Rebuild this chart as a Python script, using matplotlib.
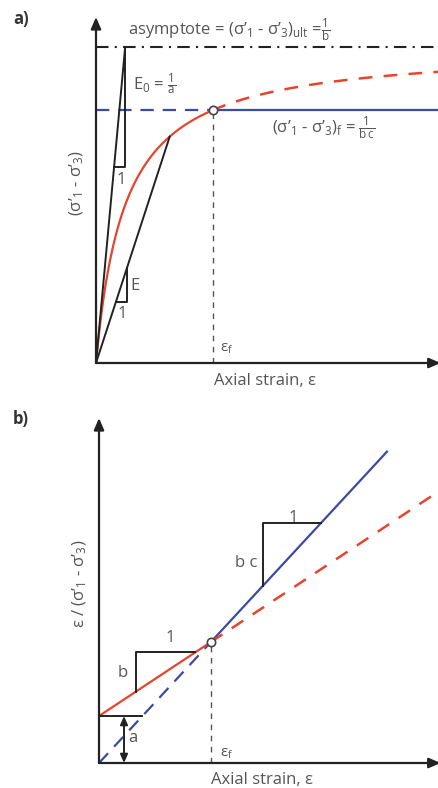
import numpy as np
import matplotlib
matplotlib.use("Agg")
import matplotlib.pyplot as plt

plt.rcParams['font.family'] = ['Open Sans', 'DejaVu Sans']
plt.rcParams['mathtext.fontset'] = 'custom'
plt.rcParams['mathtext.rm'] = 'Open Sans'
plt.rcParams['mathtext.it'] = 'Open Sans:italic'
plt.rcParams['mathtext.bf'] = 'Open Sans:bold'
plt.rcParams['mathtext.default'] = 'regular'

# ---------------- data ----------------
# panel a: hyperbolic stress-strain model  sigma = eps / (a + b*eps)
a_hyp = 0.85          # 1/E0
b_hyp = 1.0           # 1/(sigma_ult)
Rf = 0.8              # failure ratio  -> (s1-s3)_f = Rf/b
eps_max_a = 10.0
eps_secant = 2.15     # point used for secant modulus E
# panel b: transformed axes  eps/sigma = a + b*eps
a_lin = 1.0
b_lin = 0.463
eps_f_b = 3.4
eps_max_b = 10.33
eps_blue_end = 8.75
tri_b = [1.12, 2.92]      # horizontal extent of "b / 1" triangle
tri_bc = [4.98, 6.75]     # horizontal extent of "b c / 1" triangle

RED = '#e5452d'
BLUE = '#3d4b9f'
BLK = '#222222'
TXT = '#555555'

W, H = 439, 788
fig = plt.figure(figsize=(W / 100, H / 100), dpi=100)

def fx(px):
    return px / W

def fy(py):
    return 1 - py / H

FS = 12
SIG1 = r"σ’_{1}"
SIG3 = r"σ’_{3}"

# ---------------- panel a ----------------
axa = fig.add_axes([fx(96), fy(363), fx(439 - 96), (363 - 17) / H])
axa.set_xlim(0, eps_max_a)
axa.set_ylim(0, 346 / 316)
axa.axis('off')

sig_ult = 1 / b_hyp
sig_f = Rf * sig_ult
eps_f = sig_f * a_hyp / (1 - b_hyp * sig_f)

def hyp(e):
    return e / (a_hyp + b_hyp * e)

e1 = np.linspace(0, eps_f, 200)
e2 = np.linspace(eps_f, eps_max_a, 200)
axa.plot(e1, hyp(e1), color=RED, lw=1.6, solid_capstyle='butt', zorder=3)
axa.plot(e2, hyp(e2), color=RED, lw=1.8, ls=(0, (5.5, 4.5)), zorder=3)

# asymptote
axa.plot([0, eps_max_a], [sig_ult, sig_ult], color=BLK, lw=1.5,
         ls=(0, (6, 3, 1, 3)), zorder=2)
# failure line
axa.plot([0, eps_f], [sig_f, sig_f], color=BLUE, lw=1.6, ls=(0, (6, 4)), zorder=2)
axa.plot([eps_f, eps_max_a], [sig_f, sig_f], color=BLUE, lw=1.6, zorder=2)
# eps_f vertical
axa.plot([eps_f, eps_f], [0, sig_f], color=TXT, lw=1.0, ls=(0, (4, 4)), zorder=1)

# initial tangent E0
axa.plot([0, a_hyp], [0, sig_ult], color=BLK, lw=1.4, zorder=4)
t0 = 0.62
axa.plot([t0 * a_hyp, a_hyp, a_hyp], [t0, t0, sig_ult], color=BLK, lw=1.4, zorder=4)
# secant E
s_sec = hyp(eps_secant)
k = s_sec / eps_secant
axa.plot([0, eps_secant], [0, s_sec], color=BLK, lw=1.4, zorder=4)
sy = 0.193
ex = 0.90
axa.plot([sy / k, ex, ex], [sy, sy, k * ex], color=BLK, lw=1.4, zorder=4)

axa.plot([eps_f], [sig_f], marker='o', ms=6, mfc='white', mec='#444444', mew=1.2, zorder=6)

# axes arrows
axa.annotate('', xy=(0, 1), xytext=(0, 0), xycoords='axes fraction',
             arrowprops=dict(arrowstyle='-|>,head_length=0.7,head_width=0.3',
                             color=BLK, lw=1.6, shrinkA=0, shrinkB=0))
axa.annotate('', xy=(1.005, 0), xytext=(0, 0), xycoords='axes fraction',
             arrowprops=dict(arrowstyle='-|>,head_length=0.7,head_width=0.3',
                             color=BLK, lw=1.6, shrinkA=0, shrinkB=0))

axa.text(0.93, 1.054, r"asymptote = $(" + SIG1 + r"$ - $" + SIG3 + r")_{ult}$ =$\frac{1}{b}$",
         fontsize=FS, color=TXT, ha='left', va='center')
axa.text(1.08, 0.88, r"$E_{0}$ = $\frac{1}{a}$", fontsize=FS, color=TXT, ha='left', va='center')
axa.text(5.13, 0.744, r"$(" + SIG1 + r"$ - $" + SIG3 + r")_{f}$ = $\frac{1}{b\,c}$",
         fontsize=FS, color=TXT, ha='left', va='center')
axa.text(0.73, 0.58, "1", fontsize=FS, color=TXT, ha='center', va='center')
axa.text(1.14, 0.244, "E", fontsize=FS, color=TXT, ha='center', va='center')
axa.text(0.76, 0.155, "1", fontsize=FS, color=TXT, ha='center', va='center')
axa.text(3.62, 0.045, r"$ε_{f}$", fontsize=FS - 1, color=TXT, ha='left', va='center')

fig.text(fx(265), fy(381), "Axial strain, ε", fontsize=FS, color=TXT, ha='center', va='center')
fig.text(fx(77), fy(183), r"$(" + SIG1 + r"$ - $" + SIG3 + r")$", fontsize=FS, color=TXT,
         ha='center', va='center', rotation=90)
fig.text(fx(21), fy(19), "a)", fontsize=12, color='#333333', weight='bold', ha='center', va='center')

# ---------------- panel b ----------------
axb = fig.add_axes([fx(99), fy(763), fx(439 - 99), (763 - 418) / H])
axb.set_xlim(0, eps_max_b)
axb.set_ylim(0, 345 / 47)
axb.axis('off')

def lin_red(e):
    return a_lin + b_lin * np.asarray(e)

y_f = lin_red(eps_f_b)
bc = y_f / eps_f_b

def lin_blue(e):
    return bc * np.asarray(e)

axb.plot([0, eps_f_b], [lin_red(0), y_f], color=RED, lw=1.6, zorder=3)
axb.plot([eps_f_b, eps_max_b], [y_f, lin_red(eps_max_b)], color=RED, lw=1.8,
         ls=(0, (5.5, 4.5)), zorder=3)
axb.plot([0, eps_f_b], [0, y_f], color=BLUE, lw=1.6, ls=(0, (6, 4)), zorder=2)
axb.plot([eps_f_b, eps_blue_end], [y_f, lin_blue(eps_blue_end)], color=BLUE, lw=1.6, zorder=2)
axb.plot([eps_f_b, eps_f_b], [0, y_f], color=TXT, lw=1.0, ls=(0, (4, 4)), zorder=1)

# b triangle
axb.plot([tri_b[0], tri_b[0], tri_b[1]], [lin_red(tri_b[0]), lin_red(tri_b[1]), lin_red(tri_b[1])],
         color=BLK, lw=1.4, zorder=4)
# bc triangle
axb.plot([tri_bc[0], tri_bc[0], tri_bc[1]],
         [lin_blue(tri_bc[0]), lin_blue(tri_bc[1]), lin_blue(tri_bc[1])],
         color=BLK, lw=1.4, zorder=4)
# intercept a
axb.plot([0, 1.31], [a_lin, a_lin], color=BLK, lw=1.4, zorder=4)
axb.annotate('', xy=(0.76, a_lin), xytext=(0.76, 0),
             arrowprops=dict(arrowstyle='<|-|>,head_length=0.5,head_width=0.22',
                             color=BLK, lw=1.4, shrinkA=0, shrinkB=0), zorder=5)

axb.plot([eps_f_b], [y_f], marker='o', ms=6, mfc='white', mec='#444444', mew=1.2, zorder=6)

axb.annotate('', xy=(0, 1), xytext=(0, 0), xycoords='axes fraction',
             arrowprops=dict(arrowstyle='-|>,head_length=0.7,head_width=0.3',
                             color=BLK, lw=1.6, shrinkA=0, shrinkB=0))
axb.annotate('', xy=(1.005, 0), xytext=(0, 0), xycoords='axes fraction',
             arrowprops=dict(arrowstyle='-|>,head_length=0.7,head_width=0.3',
                             color=BLK, lw=1.6, shrinkA=0, shrinkB=0))

axb.text(5.9, 5.21, "1", fontsize=FS, color=TXT, ha='center', va='center')
axb.text(4.47, 4.26, "b c", fontsize=FS, color=TXT, ha='center', va='center')
axb.text(2.16, 2.66, "1", fontsize=FS, color=TXT, ha='center', va='center')
axb.text(0.73, 1.91, "b", fontsize=FS, color=TXT, ha='center', va='center')
axb.text(1.03, 0.53, "a", fontsize=FS, color=TXT, ha='center', va='center')
axb.text(3.68, 0.21, r"$ε_{f}$", fontsize=FS - 1, color=TXT, ha='left', va='center')

fig.text(fx(262), fy(780), "Axial strain, ε", fontsize=FS, color=TXT, ha='center', va='center')
fig.text(fx(80), fy(584), r"ε / $(" + SIG1 + r"$ - $" + SIG3 + r")$", fontsize=FS, color=TXT,
         ha='center', va='center', rotation=90)
fig.text(fx(21), fy(419), "b)", fontsize=12, color='#333333', weight='bold', ha='center', va='center')

fig.savefig("out.png", dpi=100)
